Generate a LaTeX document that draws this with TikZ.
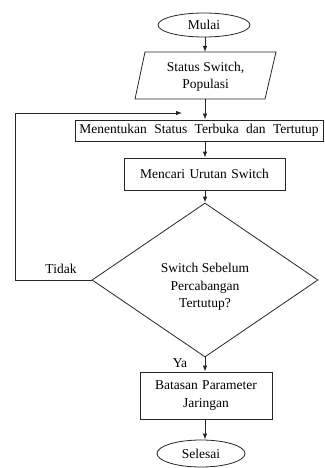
\documentclass[tikz,border=0pt]{standalone}
\usepackage{fontspec}
\setmainfont{Liberation Serif}
\usetikzlibrary{shapes.geometric,arrows.meta}
\begin{document}
\begin{tikzpicture}[x=1pt,y=-1pt,
  every node/.style={font=\fontsize{13.5}{17.5}\selectfont},
  ln/.style={line width=0.8pt, draw=black!85},
  arr/.style={ln,-{Latex[length=6pt,width=4.5pt]}},
  term/.style={ellipse, ln, inner sep=0pt, minimum width=92pt, minimum height=24pt},
  proc/.style={rectangle, ln, inner sep=0pt, align=center},
]
\useasboundingbox (0,0) rectangle (324,468);
\coordinate (ax) at (205,0);
\coordinate (fbl) at (15,0);
% start
\node[term] (mulai) at (204,25) {Mulai};
% input parallelogram
\coordinate (pa) at (145,52);
\coordinate (pb) at (276,52);
\coordinate (pc) at (265,99);
\coordinate (pd) at (135,99);
\draw[ln] (pa) -- (pb) -- (pc) -- (pd) -- cycle;
\coordinate (intop) at (205,52);
\coordinate (inbot) at (205,99);
\node[align=center] (input) at (205.5,77) {Status Switch,\\Populasi};
% processes
\node[proc, minimum width=248pt, minimum height=21pt] (tentu) at (199,130.5) {\spaceskip=0.55em Menentukan Status Terbuka dan Tertutup};
\node[proc, minimum width=161pt, minimum height=32pt] (cari) at (204.5,174) {\spaceskip=0.33em Mencari Urutan Switch};
% decision
\node[diamond, ln, inner sep=0pt, minimum width=226pt, minimum height=154pt, aspect=1.47] (dec) at (205,280) {};
\node[align=center] (dtext) at (205,287) {Switch Sebelum\\Percabangan\\Tertutup?};
\node[proc, minimum width=132pt, minimum height=47pt] (batas) at (206,395.5) {\spaceskip=0.33em Batasan Parameter\\Jaringan};
\node[term, minimum width=88pt, minimum height=27pt] (selesai) at (201,453.5) {Selesai};
% labels
\node (tidak) at (61,269) {Tidak};
\node (ya) at (180,363) {Ya};
% connectors
\draw[arr] (mulai.south -| ax) -- (intop);
\draw[arr] (inbot) -- (tentu.north -| ax);
\draw[arr] (tentu.south -| ax) -- (cari.north -| ax);
\draw[arr] (cari.south -| ax) -- (dec.north);
\draw[arr] (dec.south) -- (batas.north -| ax);
\draw[arr] (batas.south -| ax) -- (selesai.north -| ax);
\coordinate (fb) at (182,113);
\draw[arr] (dec.west) -- (dec.west -| fbl) |- (fb);
\end{tikzpicture}
\end{document}
